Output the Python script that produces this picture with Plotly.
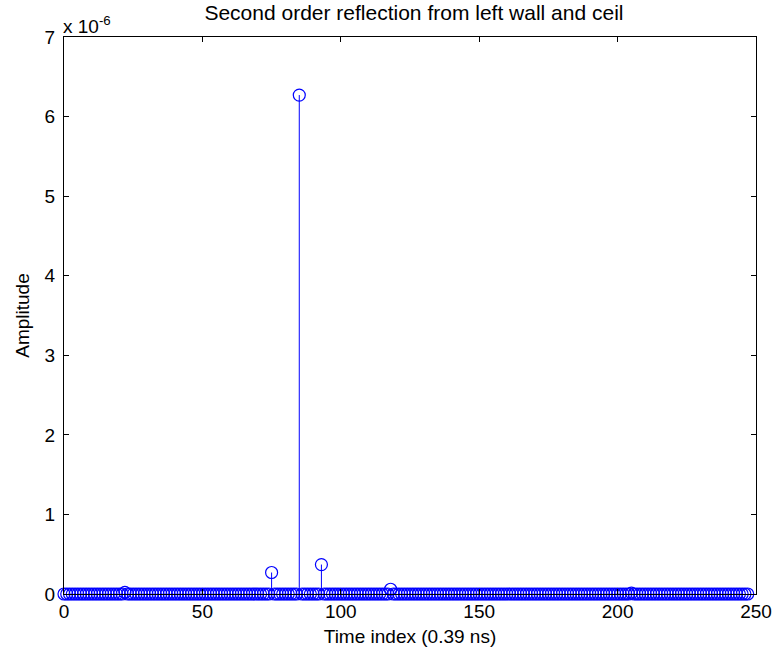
import plotly.graph_objects as go

# ---- data (amplitude in units of 1e-6) ----
n_samples = 248
time_index = list(range(n_samples))
peak_index = [22, 75, 85, 93, 118, 205]
peak_amp_e6 = [0.02, 0.27, 6.27, 0.37, 0.06, 0.01]

amp_e6 = [0.0] * n_samples
for i, a in zip(peak_index, peak_amp_e6):
    amp_e6[i] = a

x_ticks = [0, 50, 100, 150, 200, 250]
y_ticks = [0, 1, 2, 3, 4, 5, 6, 7]

BLUE = "rgb(0,0,255)"
FONT = "Arial, Liberation Sans, sans-serif"

# stem lines
sx, sy = [], []
for x, y in zip(time_index, amp_e6):
    sx += [x, x, None]
    sy += [0, y, None]

fig = go.Figure()
fig.add_trace(go.Scatter(x=sx, y=sy, mode="lines",
                         line=dict(color=BLUE, width=1),
                         hoverinfo="skip", showlegend=False, cliponaxis=False))
fig.add_trace(go.Scatter(x=time_index, y=amp_e6, mode="markers",
                         marker=dict(symbol="circle-open", size=12,
                                     color=BLUE, line=dict(color=BLUE, width=1.2)),
                         showlegend=False, cliponaxis=False))

axis_common = dict(showline=True, linecolor="black", linewidth=1, mirror="ticks",
                   ticks="inside", ticklen=5, tickcolor="black", tickwidth=1,
                   showgrid=False, zeroline=False, layer="above traces",
                   tickfont=dict(family=FONT, size=19, color="black"))

fig.update_layout(
    width=784, height=659,
    margin=dict(l=64, r=20, t=37, b=65),
    paper_bgcolor="white", plot_bgcolor="white",
    title=dict(text="Second order reflection from left wall and ceil",
               x=0.528, xanchor="center", y=1 - 13 / 659, yanchor="middle",
               font=dict(family=FONT, size=21, color="black")),
    xaxis=dict(range=[0, 250], tickvals=x_ticks, ticktext=[str(v) for v in x_ticks],
               title=dict(text="Time index (0.39 ns)", standoff=8,
                          font=dict(family=FONT, size=19, color="black")),
               **axis_common),
    yaxis=dict(range=[0, 7], tickvals=y_ticks, ticktext=[str(v) for v in y_ticks],
               ticklabelstandoff=4,
               title=dict(text="Amplitude", standoff=9,
                          font=dict(family=FONT, size=19, color="black")),
               **axis_common),
    annotations=[dict(text="x 10<sup>-6</sup>", xref="paper", yref="paper",
                      x=0, y=1, xanchor="left", yanchor="bottom", showarrow=False,
                      xshift=-3, yshift=-2,
                      font=dict(family=FONT, size=19, color="black"))],
)

fig.write_html("out.html")
